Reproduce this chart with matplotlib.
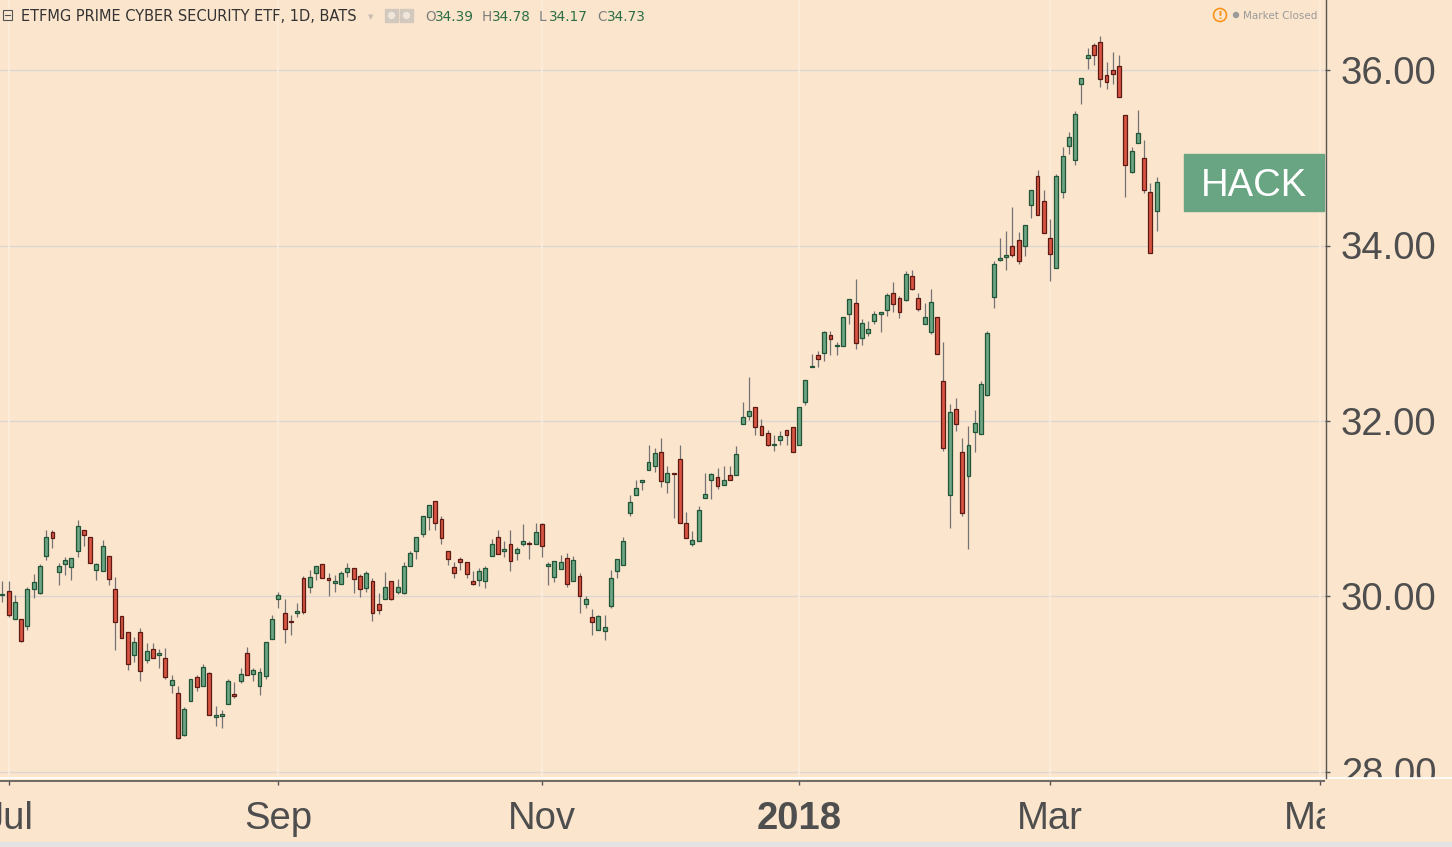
import matplotlib
matplotlib.use("Agg")
import matplotlib.pyplot as plt
from matplotlib.patches import Rectangle, Circle

# daily candles, Jun 30 2017 .. Mar 26 2018 (trading-day index)
opens = [30.01, 30.06, 29.74, 29.74, 29.66, 30.08, 30.04, 30.46, 30.73, 30.28,
         30.37, 30.33, 30.52, 30.75, 30.68, 30.30, 30.29, 30.46, 30.08, 29.77,
         29.59, 29.33, 29.59, 29.27, 29.40, 29.33, 29.30, 28.99, 28.90, 28.42,
         28.80, 29.08, 28.98, 29.12, 28.62, 28.63, 28.77, 28.88, 29.03, 29.35,
         29.11, 28.98, 29.09, 29.51, 29.97, 29.81, 29.72, 29.81, 30.21, 30.10,
         30.26, 30.37, 30.20, 30.15, 30.14, 30.28, 30.32, 30.23, 30.09, 30.17,
         29.91, 29.97, 30.17, 30.05, 30.04, 30.34, 30.52, 30.71, 30.90, 31.09,
         30.88, 30.52, 30.33, 30.43, 30.39, 30.17, 30.18, 30.17, 30.46, 30.68,
         30.52, 30.59, 30.49, 30.60, 30.61, 30.59, 30.82, 30.34, 30.22, 30.31,
         30.44, 30.17, 30.23, 29.91, 29.76, 29.62, 29.60, 29.89, 30.29, 30.36,
         30.95, 31.16, 31.30, 31.44, 31.49, 31.65, 31.30, 31.41, 31.56, 30.84,
         30.59, 30.63, 31.12, 31.33, 31.36, 31.27, 31.38, 31.38, 31.97, 32.06,
         32.16, 31.94, 31.86, 31.72, 31.78, 31.90, 31.93, 31.73, 32.21, 32.61,
         32.75, 32.77, 32.98, 32.85, 32.86, 33.22, 33.34, 32.95, 33.00, 33.14,
         33.22, 33.26, 33.46, 33.40, 33.38, 33.65, 33.40, 33.11, 33.01, 33.18,
         32.46, 31.16, 32.14, 31.65, 31.37, 31.87, 31.85, 32.30, 33.41, 33.84,
         33.87, 34.00, 34.06, 33.99, 34.46, 34.79, 34.51, 34.09, 33.75, 34.61,
         35.14, 34.98, 35.84, 36.14, 36.29, 36.32, 35.95, 36.00, 36.05, 35.49,
         34.84, 35.17, 35.00, 34.61, 34.39]
highs = [30.17, 30.17, 30.01, 29.74, 30.10, 30.25, 30.37, 30.76, 30.75, 30.38,
         30.45, 30.44, 30.87, 30.75, 30.68, 30.38, 30.64, 30.46, 30.22, 29.77,
         29.59, 29.54, 29.64, 29.47, 29.47, 29.40, 29.41, 29.10, 28.97, 28.74,
         29.05, 29.10, 29.23, 29.14, 28.75, 28.70, 29.05, 29.02, 29.18, 29.42,
         29.18, 29.18, 29.48, 29.79, 30.05, 29.97, 29.79, 29.92, 30.23, 30.30,
         30.35, 30.37, 30.27, 30.24, 30.29, 30.38, 30.32, 30.25, 30.29, 30.21,
         30.04, 30.28, 30.17, 30.20, 30.39, 30.51, 30.67, 30.92, 31.04, 31.09,
         30.91, 30.52, 30.39, 30.45, 30.39, 30.29, 30.32, 30.34, 30.65, 30.76,
         30.63, 30.75, 30.56, 30.82, 30.63, 30.84, 30.84, 30.39, 30.40, 30.47,
         30.49, 30.46, 30.26, 30.00, 29.85, 29.79, 29.79, 30.30, 30.42, 30.68,
         31.16, 31.33, 31.33, 31.73, 31.69, 31.81, 31.48, 31.41, 31.73, 30.96,
         30.74, 31.03, 31.41, 31.41, 31.46, 31.49, 31.49, 31.71, 32.22, 32.50,
         32.16, 32.02, 31.90, 31.84, 31.88, 31.90, 31.93, 32.16, 32.47, 32.76,
         32.80, 33.02, 33.02, 32.90, 33.18, 33.39, 33.62, 33.16, 33.14, 33.25,
         33.24, 33.46, 33.59, 33.42, 33.71, 33.72, 33.46, 33.34, 33.50, 33.18,
         32.90, 32.19, 32.26, 31.80, 31.94, 32.12, 32.46, 33.03, 33.83, 34.09,
         34.17, 34.44, 34.16, 34.24, 34.64, 34.86, 34.64, 34.30, 34.82, 35.12,
         35.30, 35.53, 35.91, 36.26, 36.31, 36.39, 36.10, 36.21, 36.17, 35.49,
         35.13, 35.55, 35.20, 34.71, 34.78]
lows = [29.93, 29.76, 29.74, 29.48, 29.62, 29.98, 30.02, 30.41, 30.55, 30.13,
        30.24, 30.19, 30.45, 30.57, 30.38, 30.19, 30.29, 30.13, 29.39, 29.52,
        29.16, 29.25, 29.03, 29.24, 29.29, 29.18, 29.06, 28.89, 28.37, 28.41,
        28.80, 28.92, 28.98, 28.64, 28.52, 28.50, 28.77, 28.84, 29.01, 29.10,
        29.03, 28.87, 29.06, 29.51, 29.86, 29.47, 29.56, 29.76, 29.80, 30.04,
        30.18, 30.21, 30.00, 30.05, 30.14, 30.22, 30.04, 29.99, 30.05, 29.72,
        29.80, 29.97, 29.96, 30.03, 30.03, 30.34, 30.43, 30.67, 30.75, 30.76,
        30.60, 30.36, 30.21, 30.30, 30.21, 30.13, 30.12, 30.09, 30.46, 30.48,
        30.45, 30.29, 30.41, 30.57, 30.43, 30.59, 30.45, 30.13, 30.16, 30.31,
        30.11, 30.17, 29.81, 29.87, 29.56, 29.62, 29.50, 29.87, 30.21, 30.36,
        30.91, 31.16, 31.21, 31.44, 31.42, 31.25, 31.18, 30.89, 30.84, 30.66,
        30.57, 30.63, 31.12, 31.11, 31.22, 31.27, 31.33, 31.38, 31.97, 32.01,
        31.84, 31.84, 31.71, 31.66, 31.73, 31.73, 31.64, 31.73, 32.18, 32.61,
        32.61, 32.68, 32.75, 32.75, 32.86, 33.10, 32.82, 32.87, 32.97, 33.11,
        33.01, 33.20, 33.24, 33.17, 33.37, 33.49, 33.25, 33.10, 32.99, 32.76,
        31.66, 30.78, 31.88, 30.92, 30.54, 31.64, 31.85, 32.28, 33.29, 33.83,
        33.72, 33.87, 33.79, 33.88, 34.32, 34.35, 34.14, 33.60, 33.75, 34.54,
        35.05, 34.92, 35.62, 36.02, 36.06, 35.81, 35.79, 35.84, 35.69, 34.56,
        34.83, 35.17, 34.60, 33.91, 34.17]
closes = [30.02, 29.79, 29.93, 29.49, 30.08, 30.16, 30.35, 30.68, 30.66, 30.35,
          30.41, 30.44, 30.80, 30.70, 30.38, 30.37, 30.57, 30.20, 29.71, 29.52,
          29.23, 29.48, 29.15, 29.37, 29.29, 29.35, 29.08, 29.04, 28.38, 28.71,
          29.05, 28.96, 29.19, 28.64, 28.64, 28.66, 29.03, 28.86, 29.11, 29.10,
          29.16, 29.13, 29.48, 29.74, 30.01, 29.63, 29.70, 29.83, 29.82, 30.22,
          30.35, 30.21, 30.19, 30.17, 30.26, 30.32, 30.20, 30.08, 30.27, 29.81,
          29.84, 30.11, 29.97, 30.10, 30.34, 30.49, 30.67, 30.92, 31.04, 30.84,
          30.66, 30.43, 30.27, 30.39, 30.25, 30.14, 30.29, 30.32, 30.60, 30.48,
          30.54, 30.40, 30.54, 30.63, 30.59, 30.73, 30.57, 30.37, 30.40, 30.39,
          30.14, 30.41, 30.00, 29.97, 29.71, 29.77, 29.65, 30.21, 30.42, 30.63,
          31.07, 31.24, 31.33, 31.53, 31.63, 31.32, 31.41, 31.39, 30.84, 30.66,
          30.64, 30.98, 31.17, 31.39, 31.26, 31.33, 31.33, 31.62, 32.05, 32.11,
          31.93, 31.84, 31.73, 31.74, 31.83, 31.84, 31.64, 32.16, 32.47, 32.63,
          32.71, 33.01, 32.94, 32.87, 33.18, 33.39, 32.89, 33.12, 33.05, 33.22,
          33.24, 33.44, 33.33, 33.24, 33.68, 33.50, 33.28, 33.18, 33.36, 32.76,
          31.69, 32.10, 31.96, 30.95, 31.72, 31.98, 32.42, 33.00, 33.79, 33.86,
          33.89, 33.89, 33.83, 34.23, 34.64, 34.35, 34.14, 33.90, 34.79, 35.02,
          35.24, 35.50, 35.91, 36.18, 36.18, 35.90, 35.87, 35.96, 35.69, 34.92,
          35.08, 35.29, 34.63, 33.91, 34.73]

price_levels = [28, 30, 32, 34, 36]
month_idx = [1, 44, 86, 127, 167, 210]
month_labels = ["Jul", "Sep", "Nov", "2018", "Mar", "May"]

W, H = 1452, 847
bg = "#fce5cd"
txt_col = "#4e4e4e"
up_fill, up_edge = "#6ba583", "#225437"
dn_fill, dn_edge = "#d75442", "#5b1a13"
wick_col = "#737375"


def rect(x0, y0, x1, y1):
    return [x0 / W, 1 - y1 / H, (x1 - x0) / W, (y1 - y0) / H]


fig = plt.figure(figsize=(W / 100, H / 100), dpi=100, facecolor=bg)

step = 6.274
xlim = (-2.3 / step, (1325 - 2.3) / step)
ylim = (36 - (778 - 70.3) / 87.65, 36 + 70.3 / 87.65)

# main chart
ax = fig.add_axes(rect(0, 0, 1325, 778))
ax.set_xlim(*xlim)
ax.set_ylim(*ylim)
ax.set_axis_off()
ax.hlines(price_levels, xlim[0], xlim[1], color="#d9d5d0", lw=0.9, zorder=0)
ax.vlines(month_idx, ylim[0], ylim[1], color="#fdeedd", lw=1.1, zorder=0)

idx = list(range(len(opens)))
ax.vlines(idx, lows, highs, colors=wick_col, lw=0.9, zorder=2)
bottoms = [min(o, c) for o, c in zip(opens, closes)]
heights = [max(abs(c - o), 0.015) for o, c in zip(opens, closes)]
fills = [up_fill if c >= o else dn_fill for o, c in zip(opens, closes)]
edges = [up_edge if c >= o else dn_edge for o, c in zip(opens, closes)]
ax.bar(idx, heights, bottom=bottoms, width=0.62, color=fills,
       edgecolor=edges, linewidth=0.9, zorder=3)

# price scale
pax = fig.add_axes(rect(1325, 0, 1452, 778))
pax.set_xlim(0, 127)
pax.set_ylim(*ylim)
pax.set_axis_off()
pax.hlines(price_levels, 0, 5, color="#555555", lw=1)
for v in price_levels:
    pax.text(16, v - 0.157, f"{v:.2f}", fontsize=27.5, color=txt_col,
             family="Liberation Sans", va="baseline", clip_on=True)

# time scale
tax = fig.add_axes(rect(0, 779, 1325, 842))
tax.set_xlim(*xlim)
tax.set_ylim(63, 0)
tax.set_axis_off()
tax.axhline(2, color="#555555", lw=1.2)
tax.vlines(month_idx, 2, 6, color="#555555", lw=1)
for i, lab in zip(month_idx, month_labels):
    tax.text(i, 50, lab, fontsize=27.5, color=txt_col, family="Liberation Sans",
             ha="center", va="baseline", clip_on=True,
             fontweight="bold" if lab == "2018" else "normal")

# overlay in pixel coordinates
ov = fig.add_axes([0, 0, 1, 1])
ov.set_xlim(0, W)
ov.set_ylim(H, 0)
ov.set_axis_off()
ov.plot([0, W], [778.5, 778.5], color="white", lw=1.2)
ov.plot([1325.5, 1325.5], [0, 778], color="#555555", lw=1)
ov.add_patch(Rectangle((0, 842), W, 5, color="#e3e3e3"))

# symbol label on the price scale
ov.add_patch(Rectangle((1184, 154), 140, 57, color="#6aa583"))
ov.text(1254, 196, "HACK", fontsize=27.5, color="white", family="Liberation Sans",
        ha="center", va="baseline")

# header
ov.add_patch(Rectangle((3, 10), 9, 10, fill=False, edgecolor="#555555", lw=0.8))
ov.plot([5, 10], [15, 15], color="#555555", lw=0.8)
ov.text(21, 21, "ETFMG PRIME CYBER SECURITY ETF, 1D, BATS", fontsize=10.5,
        color="#333333", va="baseline")
ov.text(371, 20, "\u25be", fontsize=8, color="#c9beb2", ha="center", va="baseline")
for x0 in (385, 400):
    ov.add_patch(Rectangle((x0, 9), 13, 13, color="#d2c8be"))
    ov.add_patch(Circle((x0 + 6.5, 15.5), 3, color="#eee6dc"))
for x0, letter, val in [(425, "O", "34.39"), (482, "H", "34.78"),
                        (539, "L", "34.17"), (597, "C", "34.73")]:
    ov.text(x0, 21, letter, fontsize=9.8, color="#7d7d7d", va="baseline")
    ov.text(x0 + 10, 21, val, fontsize=9.8, color="#2b6e45", va="baseline")

ov.add_patch(Circle((1220, 15), 6.5, fill=False, edgecolor="#f7941d", lw=1.2))
ov.text(1220, 19, "!", fontsize=8, color="#f7941d", ha="center", va="baseline",
        fontweight="bold")
ov.add_patch(Circle((1236, 15), 2.5, color="#9a9a9a"))
ov.text(1243, 19, "Market Closed", fontsize=7.5, color="#9a9a9a", va="baseline")

plt.savefig("out.png", dpi=100, facecolor=bg)
